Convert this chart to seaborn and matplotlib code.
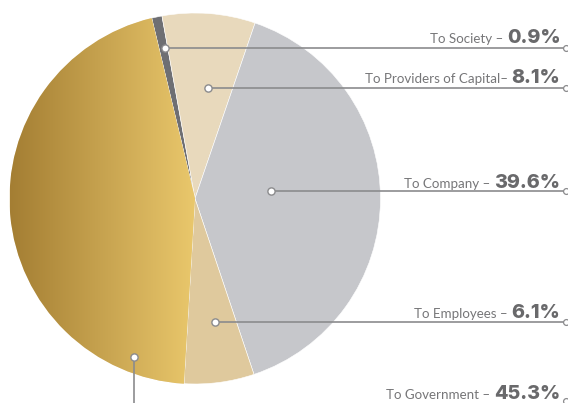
import numpy as np
import matplotlib
matplotlib.use("Agg")
import matplotlib.pyplot as plt
from matplotlib.colors import LinearSegmentedColormap
import seaborn as sns

# Distribution of value added
categories = ["To Society", "To Providers of Capital", "To Company", "To Employees", "To Government"]
shares = [0.9, 8.1, 39.6, 6.1, 45.3]
value_labels = ["0.9%", "8.1%", "39.6%", "6.1%", "45.3%"]
prefixes = ["To Society \u2013", "To Providers of Capital\u2013", "To Company \u2013",
            "To Employees \u2013", "To Government \u2013"]

slice_colors = ["#6e6f73", "#e8d9bc", "#c6c7cb", "#dfc99d", "#c9a44e"]
gold_dark, gold_light = "#a47e33", "#eac86c"

sns.set_theme(style="white")
plt.rcParams["font.family"] = ["Inter", "DejaVu Sans"]

W, H = 568, 403
fig = plt.figure(figsize=(W / 100, H / 100), dpi=100)
ax = fig.add_axes([0, 0, 1, 1])

cx, cy, R = 195, 204.5, 185.5
wedges, _ = ax.pie(shares, colors=slice_colors, startangle=103.5, counterclock=False,
                   center=(cx, cy), radius=R, frame=False,
                   wedgeprops=dict(linewidth=0.4, edgecolor="white"))

# Horizontal gold gradient over the government slice
gov = wedges[4]
grad = np.linspace(0, 1, 256).reshape(1, -1)
cmap = LinearSegmentedColormap.from_list("gold", [gold_dark, gold_light])
img = ax.imshow(grad, cmap=cmap, extent=[cx - R, cx, cy - R, cy + R],
                aspect="auto", zorder=gov.get_zorder() + 0.1, interpolation="bicubic")
img.set_clip_path(gov)

ax.set_xlim(0, W)
ax.set_ylim(0, H)
ax.set_aspect("equal")
ax.axis("off")

# Leader anchors inside each slice (angle in degrees, radius fraction)
anchor_angle = [101.2, 83.3, 5.3, -80.8, -111.1]
anchor_frac = [0.825, 0.60, 0.41, 0.675, 0.915]
line_y = [H - 47, H - 87, H - 191, H - 322, None]
text_y = [H - 43, H - 83, H - 188, H - 318, H - 399]

line_col = "#8b8b8d"
text_col = "#767678"
end_x = 565.5
right_x = 560.5

renderer = fig.canvas.get_renderer()
for i in range(len(categories)):
    a = np.deg2rad(anchor_angle[i])
    px = cx + anchor_frac[i] * R * np.cos(a)
    py = cy + anchor_frac[i] * R * np.sin(a)
    if line_y[i] is not None:
        ax.plot([px, end_x], [py, py], color=line_col, lw=1.2, zorder=5, solid_capstyle="butt")
        ax.plot([end_x], [py], "o", ms=4.2, mfc="white", mec=line_col, mew=0.9, zorder=6)
    else:
        ax.plot([px, px], [py, 0], color=line_col, lw=1.2, zorder=5, solid_capstyle="butt")
        ax.plot([end_x], [H - 401], "o", ms=4.2, mfc="white", mec=line_col, mew=0.9, zorder=6)
    ax.plot([px], [py], "o", ms=5.2, mfc="white", mec=line_col, mew=1.0, zorder=7)

    val = ax.text(right_x, text_y[i], value_labels[i], ha="right", va="baseline",
                  fontsize=14.2, fontweight="heavy", color="#69696b", zorder=8)
    bb = val.get_window_extent(renderer=renderer)
    ax.text(bb.x0 - 4, text_y[i], prefixes[i], ha="right", va="baseline",
            fontsize=9.6, color=text_col, zorder=8, family=["Lato", "DejaVu Sans"])

fig.savefig("out.png", dpi=100, facecolor="white")
